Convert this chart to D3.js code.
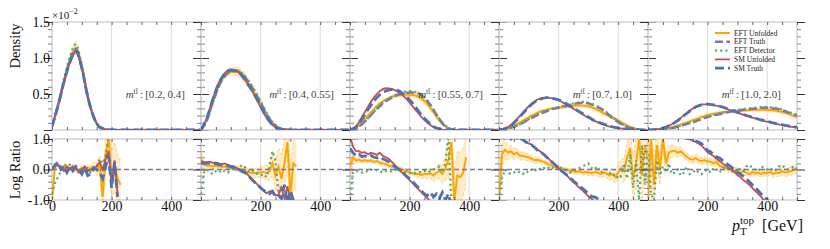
<!DOCTYPE html>
<html>
<head>
  <meta charset="UTF-8">
  <style>
    body { margin: 0; background: #fff; }
    svg { display: block; font-family: "Liberation Serif", "DejaVu Serif", serif; }
  </style>
</head>
<body>
<svg></svg>
<script src="https://d3js.org/d3.v7.min.js"></script>
<script>

let width = 830, height = 249;

// ---- data (density in units of 1e-2, one row per m_tt bin) ----
const massBins = ["[0.2,\u20090.4]", "[0.4,\u20090.55]", "[0.55,\u20090.7]", "[0.7,\u20091.0]", "[1.0,\u20092.0]"];
const seriesNames = ["EFT Unfolded", "EFT Truth", "EFT Detector", "SM Unfolded", "SM Truth"];

const ptDens = [0,20,40,60,80,100,120,140,160,180,200,220,240,260,280,300,320,340,360,380,400,420,440,460,480,500];

const densEftUnf = [
  [0.05,0.34,0.68,0.97,1.14,0.88,0.46,0.18,0.04,0.01,0,0,0,0,0,0,0,0,0,0,0,0,0,0,0,0],
  [0,0.15,0.4,0.62,0.76,0.81,0.81,0.75,0.64,0.51,0.36,0.21,0.09,0.03,0.01,0,0,0,0,0,0,0,0,0,0,0],
  [0,0.03,0.11,0.2,0.29,0.37,0.42,0.46,0.48,0.49,0.49,0.48,0.44,0.36,0.25,0.13,0.05,0.01,0,0,0,0,0,0,0,0],
  [0,0.01,0.04,0.08,0.13,0.18,0.22,0.26,0.28,0.3,0.31,0.32,0.33,0.34,0.34,0.33,0.3,0.26,0.21,0.17,0.13,0.08,0.04,0.015,0,0],
  [0,0.003,0.01,0.02,0.04,0.065,0.09,0.12,0.15,0.18,0.21,0.225,0.24,0.25,0.255,0.26,0.27,0.275,0.28,0.28,0.28,0.275,0.26,0.24,0.21,0.18]
];
const densEftTruth = [
  [0.05,0.34,0.67,0.96,1.13,0.87,0.46,0.18,0.04,0.01,0,0,0,0,0,0,0,0,0,0,0,0,0,0,0,0],
  [0,0.14,0.39,0.61,0.75,0.81,0.82,0.77,0.66,0.53,0.38,0.22,0.1,0.03,0.01,0,0,0,0,0,0,0,0,0,0,0],
  [0,0.02,0.08,0.16,0.25,0.33,0.4,0.45,0.49,0.51,0.52,0.52,0.48,0.4,0.28,0.15,0.05,0.01,0,0,0,0,0,0,0,0],
  [0,0.01,0.03,0.06,0.1,0.15,0.19,0.23,0.26,0.29,0.31,0.33,0.35,0.37,0.38,0.37,0.34,0.3,0.24,0.17,0.11,0.06,0.03,0.01,0,0],
  [0,0.002,0.006,0.013,0.025,0.045,0.07,0.095,0.12,0.15,0.18,0.2,0.22,0.24,0.26,0.27,0.28,0.29,0.3,0.31,0.31,0.3,0.29,0.26,0.23,0.2]
];
const densEftDet = [
  [0.06,0.36,0.71,1.02,1.19,0.9,0.47,0.18,0.04,0.01,0,0,0,0,0,0,0,0,0,0,0,0,0,0,0,0],
  [0,0.13,0.38,0.6,0.75,0.81,0.83,0.78,0.68,0.55,0.4,0.24,0.11,0.04,0.01,0,0,0,0,0,0,0,0,0,0,0],
  [0,0.02,0.08,0.16,0.25,0.34,0.41,0.46,0.5,0.53,0.54,0.53,0.49,0.41,0.29,0.16,0.06,0.01,0,0,0,0,0,0,0,0],
  [0,0.01,0.03,0.06,0.1,0.15,0.2,0.24,0.27,0.3,0.32,0.34,0.36,0.38,0.39,0.38,0.35,0.31,0.25,0.18,0.12,0.07,0.03,0.01,0,0],
  [0,0.002,0.007,0.014,0.027,0.047,0.072,0.1,0.125,0.155,0.185,0.21,0.23,0.25,0.27,0.28,0.29,0.3,0.31,0.32,0.32,0.31,0.3,0.27,0.24,0.21]
];
const densSmUnf = [
  [0.05,0.33,0.66,0.94,1.08,0.86,0.46,0.18,0.04,0.01,0,0,0,0,0,0,0,0,0,0,0,0,0,0,0,0],
  [0,0.17,0.44,0.66,0.79,0.84,0.82,0.74,0.62,0.48,0.32,0.17,0.07,0.02,0.005,0,0,0,0,0,0,0,0,0,0,0],
  [0,0.05,0.18,0.32,0.45,0.54,0.58,0.57,0.53,0.47,0.38,0.28,0.18,0.1,0.04,0.01,0,0,0,0,0,0,0,0,0,0],
  [0,0.02,0.07,0.15,0.24,0.33,0.4,0.44,0.45,0.44,0.41,0.37,0.32,0.27,0.22,0.17,0.13,0.09,0.06,0.04,0.025,0.015,0.008,0.003,0,0],
  [0,0.005,0.015,0.04,0.08,0.14,0.2,0.27,0.32,0.355,0.355,0.345,0.33,0.3,0.27,0.24,0.21,0.185,0.16,0.135,0.115,0.095,0.075,0.06,0.045,0.035]
];
const densSmTruth = [
  [0.05,0.33,0.66,0.94,1.1,0.86,0.46,0.18,0.04,0.01,0,0,0,0,0,0,0,0,0,0,0,0,0,0,0,0],
  [0,0.17,0.43,0.65,0.78,0.83,0.82,0.74,0.62,0.49,0.33,0.18,0.07,0.02,0.005,0,0,0,0,0,0,0,0,0,0,0],
  [0,0.04,0.15,0.28,0.4,0.49,0.54,0.56,0.55,0.5,0.42,0.32,0.21,0.12,0.05,0.015,0,0,0,0,0,0,0,0,0,0],
  [0,0.02,0.06,0.14,0.23,0.32,0.39,0.43,0.45,0.44,0.42,0.38,0.33,0.28,0.23,0.18,0.13,0.1,0.07,0.045,0.03,0.017,0.009,0.004,0.001,0],
  [0,0.005,0.015,0.04,0.08,0.13,0.2,0.26,0.32,0.35,0.36,0.35,0.33,0.305,0.275,0.245,0.215,0.19,0.165,0.14,0.12,0.1,0.08,0.065,0.05,0.04]
];

// ---- log ratio to EFT Truth, pT step 10 ----
const ptRatio = [0,10,20,30,40,50,60,70,80,90,100,110,120,130,140,150,160,170,180,190,200,210,220,230,240,250,260,270,280,290,300,310,320,330,340,350,360,370,380,390,400,410,420,430,440,450,460,470,480,490,500];

const ratioEftUnf = [
  [-1.0,0.1,0.15,0.05,0.1,0.0,0.05,0.1,0.0,-0.05,0.05,0.02,-0.05,0.05,0.1,0.0,0.15,-0.9,0.5,1.0,-0.2,0.1,-0.3,-0.5],
  [0.35,0.15,0.12,0.13,0.1,0.12,0.1,0.08,0.1,0.05,0.06,0.05,0.03,0.0,0.0,-0.05,-0.1,-0.1,-0.12,-0.1,-0.1,-0.08,-0.12,-0.05,0.2,-0.2,0.1,-0.3,0.2,0.9,-0.8,0.2,0.1],
  [0.1,0.4,0.3,0.32,0.28,0.3,0.27,0.3,0.25,0.28,0.22,0.2,0.18,0.12,0.1,0.08,0.05,0.02,-0.02,-0.05,-0.1,-0.12,-0.15,-0.15,-0.18,-0.15,-0.15,-0.12,-0.2,-0.1,-0.05,-0.15,0.05,0.3,0.9,-1.0,-0.2,-0.25,-0.1,0.4],
  [-1.0,0.5,0.65,0.55,0.6,0.5,0.55,0.45,0.45,0.42,0.4,0.35,0.3,0.32,0.28,0.25,0.2,0.15,0.12,0.08,0.05,0.02,0.0,-0.02,-0.05,-0.05,-0.08,-0.05,-0.1,-0.08,-0.1,-0.12,-0.08,-0.1,-0.15,-0.1,-0.12,-0.2,-0.15,-0.25,-0.1,0.05,-0.05,0.4,0.7,-0.3,0.2,1.0,-0.2,0.8,0.3],
  [-1.0,1.0,-0.5,0.8,0.0,1.0,0.2,0.55,0.6,0.62,0.55,0.6,0.5,0.42,0.35,0.32,0.38,0.3,0.28,0.3,0.27,0.25,0.2,0.25,0.12,0.08,0.05,0.0,0.02,-0.05,-0.05,-0.12,-0.05,-0.1,-0.15,-0.08,-0.12,-0.1,-0.15,-0.1,-0.12,-0.08,-0.15,-0.1,-0.12,-0.05,-0.1,-0.08,-0.05,-0.02,0.05]
];
const ratioErr = [
  [0.3,0.12,0.1,0.08,0.08,0.08,0.08,0.08,0.08,0.08,0.1,0.1,0.1,0.12,0.15,0.2,0.3,0.5,0.6,0.7,0.8,0.8,0.8,0.8],
  [0.3,0.12,0.1,0.08,0.08,0.07,0.07,0.07,0.07,0.07,0.07,0.08,0.08,0.1,0.1,0.12,0.12,0.15,0.15,0.15,0.18,0.2,0.25,0.3,0.4,0.5,0.6,0.8,0.8,0.8,0.8,0.8,0.8],
  [0.4,0.15,0.1,0.08,0.07,0.07,0.06,0.06,0.06,0.06,0.06,0.06,0.06,0.06,0.06,0.06,0.06,0.07,0.07,0.07,0.08,0.08,0.1,0.1,0.12,0.12,0.15,0.15,0.2,0.2,0.25,0.3,0.4,0.6,0.8,0.8,0.8,0.8,0.8,0.8],
  [0.6,0.4,0.3,0.25,0.2,0.18,0.15,0.14,0.13,0.12,0.11,0.1,0.1,0.09,0.09,0.08,0.08,0.08,0.08,0.08,0.08,0.08,0.08,0.08,0.08,0.08,0.09,0.09,0.09,0.1,0.1,0.1,0.11,0.12,0.12,0.13,0.14,0.15,0.17,0.2,0.25,0.3,0.4,0.5,0.6,0.7,0.8,0.8,0.8,0.8,0.8],
  [0.8,0.8,0.8,0.6,0.5,0.4,0.3,0.25,0.2,0.18,0.16,0.15,0.14,0.13,0.12,0.12,0.12,0.12,0.11,0.11,0.1,0.1,0.1,0.1,0.1,0.1,0.1,0.1,0.1,0.1,0.1,0.1,0.1,0.1,0.1,0.1,0.1,0.1,0.1,0.11,0.11,0.11,0.12,0.12,0.12,0.13,0.13,0.14,0.14,0.15,0.15]
];
const ratioEftDet = [
  [-0.8,-0.45,-0.25,-0.05,0.1,0.2,0.15,0.0,0.1,0.05,-0.05,0.1,0.05,-0.1,0.0,0.1,0.35,0.2,0.45,1.05],
  [-0.8,-0.1,0.0,-0.1,-0.15,-0.05,-0.1,0.0,-0.05,-0.1,0.0,0.05,0.0,0.1,0.15,0.05,-0.05,0.0,-0.1,-0.15,-0.2,-0.15,-0.25,0.1,0.6,0.3,-0.8,-0.5],
  [-1.0,-0.1,-0.05,-0.05,-0.1,-0.05,-0.05,0.0,-0.05,-0.02,-0.05,-0.1,-0.05,-0.08,-0.05,0.0,-0.05,-0.05,-0.1,-0.08,-0.1,-0.15,-0.12,-0.08,-0.1,-0.05,-0.1,-0.05,0.0,0.05,0.1,-0.1,0.2,1.1,-1.1],
  [-1.0,-0.3,0.0,-0.1,-0.15,-0.1,-0.05,-0.1,-0.15,-0.05,-0.1,0.0,-0.05,0.05,0.0,0.05,0.0,0.1,0.05,0.0,0.1,0.05,0.0,-0.05,-0.1,-0.05,0.0,0.05,0.1,0.15,0.2,0.05,0.0,0.1,-0.1,-0.05,0.0,-0.1,-0.2,-0.15,-0.3,-0.2,0.2,-0.3,0.5,-0.6,0.3,-1.0,0.8,-0.5,0.6],
  [0.5,-0.8,-1.0,0.3,-0.2,0.1,-0.1,0.2,-0.15,-0.1,0.0,-0.2,-0.1,0.1,-0.15,-0.1,0.0,-0.1,-0.15,-0.05,0.0,-0.1,0.05,0.0,-0.1,0.05,0.1,0.0,-0.05,-0.1,0.05,0.0,-0.05,0.1,0.15,0.05,0.0,-0.05,0.1,0.05,0.0,0.05,-0.05,0.0,0.1,0.15,0.05,0.0,0.05,0.1,0.05]
];
const ratioSmUnf = [
  [0.0,0.1,0.15,0.05,-0.05,0.1,0.0,0.1,0.05,-0.1,0.0,0.1,-0.05,0.0,0.05,0.1,0.25,0.0,0.35,0.6,-0.5,0.3,-0.8],
  [0.27,0.25,0.24,0.26,0.22,0.23,0.2,0.18,0.2,0.15,0.12,0.1,0.05,0.0,-0.05,-0.1,-0.2,-0.3,-0.4,-0.5,-0.58,-0.7,-0.78,-0.72,-0.7,-0.85,-0.82,-0.6,-0.95,-0.55,-1.1,-0.9],
  [1.1,0.75,0.6,0.6,0.55,0.57,0.5,0.55,0.52,0.48,0.55,0.45,0.4,0.35,0.25,0.15,0.05,-0.05,-0.15,-0.25,-0.35,-0.45,-0.55,-0.65,-0.75,-0.85,-0.95,-1.05,-1.2],
  [1.2,1.1,1.05,1.1,1.05,1.1,1.0,1.05,1.0,0.92,0.85,0.82,0.72,0.65,0.58,0.5,0.42,0.32,0.25,0.15,0.05,-0.05,-0.13,-0.22,-0.32,-0.42,-0.5,-0.6,-0.68,-0.78,-0.88,-0.95,-1.05],
  [1.3,1.3,1.3,1.3,1.3,1.3,1.3,1.3,1.3,1.3,1.3,1.3,1.3,1.05,1.0,0.95,0.9,0.85,0.78,0.68,0.56,0.5,0.44,0.35,0.28,0.2,0.13,0.05,0.0,-0.08,-0.18,-0.25,-0.35,-0.42,-0.5,-0.6,-0.7,-0.8,-0.9,-1.02,-1.1]
];
const ratioSmTruth = [
  [0.0,0.15,0.25,0.0,0.1,-0.1,0.1,-0.05,0.1,0.0,-0.15,0.05,-0.2,-0.15,0.05,0.0,-0.1,-0.3,0.1,0.45,-0.6,0.25,-0.9],
  [0.22,0.2,0.2,0.21,0.18,0.2,0.16,0.15,0.16,0.12,0.1,0.07,0.03,-0.02,-0.07,-0.12,-0.22,-0.32,-0.42,-0.52,-0.6,-0.68,-0.75,-0.8,-0.72,-0.9,-0.85,-0.95,-0.5,-1.1,-0.7,-1.0],
  [0.7,0.55,0.45,0.5,0.42,0.45,0.4,0.46,0.4,0.38,0.42,0.35,0.3,0.25,0.18,0.1,0.02,-0.05,-0.13,-0.22,-0.3,-0.4,-0.5,-0.6,-0.7,-0.8,-0.85,-0.75,-0.9,-0.8,-0.95,-0.75,-1.0,-0.8,-1.2],
  [1.2,1.1,1.05,1.1,1.0,1.08,1.0,1.02,0.98,0.9,0.85,0.8,0.72,0.62,0.56,0.5,0.4,0.3,0.22,0.14,0.05,-0.05,-0.12,-0.2,-0.28,-0.38,-0.46,-0.55,-0.62,-0.7,-0.78,-0.88,-0.9,-0.95,-1.05],
  [1.3,1.3,1.3,1.3,1.3,1.3,1.3,1.3,1.3,1.3,1.3,1.1,1.05,1.02,1.0,0.97,0.93,0.9,0.85,0.72,0.62,0.58,0.5,0.42,0.38,0.3,0.22,0.15,0.08,0.0,-0.08,-0.15,-0.22,-0.3,-0.4,-0.5,-0.6,-0.7,-0.8,-0.9,-1.0,-1.1]
];

// ---- styles ----
const styles = {
  "EFT Unfolded": {color: "#ffa500", w: 2, dash: null},
  "EFT Truth":    {color: "#8172b2", w: 2.5, dash: "8,3.5"},
  "EFT Detector": {color: "#55a868", w: 2.2, dash: "2,3.2"},
  "SM Unfolded":  {color: "#c44e52", w: 1.8, dash: null},
  "SM Truth":     {color: "#4c72b0", w: 2.8, dash: "9,4"}
};
const densBySeries = [densEftUnf, densEftTruth, densEftDet, densSmUnf, densSmTruth];

let svg = d3.select("svg").attr("width", width).attr("height", height);
let defs = svg.append("defs");

const left0 = 52, panelW = 149;
const topY0 = 22, topY1 = 130, botY0 = 139, botY1 = 200;
const yT = d3.scaleLinear().domain([0, 1.5]).range([topY1, topY0]);
const yB = d3.scaleLinear().domain([-1, 1]).range([botY1, botY0]);
const xTicks50 = [0,50,100,150,200,250,300,350,400,450,500];

function styled(sel, s) {
  return sel.attr("fill", "none").attr("stroke", s.color).attr("stroke-width", s.w)
    .attr("stroke-dasharray", s.dash);
}

function inwardTicks(g, x, x0, x1, y, majors, minors, isTop) {
  // y ticks on both sides
  [[d3.axisRight, x0], [d3.axisLeft, x1]].forEach(([ax, px]) => {
    g.append("g").attr("transform", `translate(${px},0)`)
      .call(ax(y).tickValues(minors).tickSize(-4).tickFormat(""))
      .call(a => a.select(".domain").remove())
      .selectAll("line").attr("stroke", "#666").attr("stroke-width", 0.8);
    g.append("g").attr("transform", `translate(${px},0)`)
      .call(ax(y).tickValues(majors).tickSize(-8).tickFormat(""))
      .call(a => a.select(".domain").remove())
      .selectAll("line").attr("stroke", "#333").attr("stroke-width", 1);
  });
  const r = y.range();
  g.append("g").attr("transform", `translate(0,${r[1]})`)
    .call(d3.axisTop(x).tickValues(xTicks50).tickSize(-3).tickFormat(""))
    .call(a => a.select(".domain").remove())
    .selectAll("line").attr("stroke", "#444").attr("stroke-width", 0.8);
  g.append("g").attr("transform", `translate(0,${r[0]})`)
    .call(d3.axisBottom(x).tickValues(xTicks50).tickSize(-3).tickFormat(""))
    .call(a => a.select(".domain").remove())
    .selectAll("line").attr("stroke", "#444").attr("stroke-width", 0.8);
}

massBins.forEach((label, p) => {
  const x0 = left0 + p * panelW, x1 = x0 + panelW;
  const x = d3.scaleLinear().domain([0, 500]).range([x0, x1]);
  const g = svg.append("g");

  // clip paths
  defs.append("clipPath").attr("id", "ct" + p).append("rect")
    .attr("x", x0).attr("y", topY0).attr("width", panelW).attr("height", topY1 - topY0);
  defs.append("clipPath").attr("id", "cb" + p).append("rect")
    .attr("x", x0).attr("y", botY0).attr("width", panelW).attr("height", botY1 - botY0);

  // frames + grid
  [[topY0, topY1], [botY0, botY1]].forEach(([a, b]) => {
    g.append("rect").attr("x", x0).attr("y", a).attr("width", panelW).attr("height", b - a)
      .attr("fill", "none").attr("stroke", "#d2d2d2").attr("stroke-width", 1.5);
    g.selectAll(null).data([200, 400]).enter().append("line")
      .attr("x1", d => x(d)).attr("x2", d => x(d)).attr("y1", a).attr("y2", b)
      .attr("stroke", "#dcdcdc").attr("stroke-width", 1);
  });

  // ---- density ----
  const gt = g.append("g").attr("clip-path", `url(#ct${p})`);
  const dline = d3.line().x((d, i) => x(ptDens[i])).y(d => yT(d)).curve(d3.curveMonotoneX);
  const orange = densEftUnf[p];
  const bandD = orange.map((v, i) => {
    const e = ratioErr[p][2 * i] || 0;
    return [v * Math.exp(-e), v * Math.exp(e)];
  });
  gt.append("path").datum(bandD)
    .attr("d", d3.area().x((d, i) => x(ptDens[i])).y0(d => yT(d[0])).y1(d => yT(d[1])).curve(d3.curveMonotoneX))
    .attr("fill", "#ffa500").attr("opacity", 0.28);
  seriesNames.forEach((name, s) => {
    styled(gt.append("path").datum(densBySeries[s][p]).attr("d", dline), styles[name]);
  });

  // ---- log ratio ----
  const gb = g.append("g").attr("clip-path", `url(#cb${p})`);
  const rline = d3.line().defined(d => d != null).x((d, i) => x(ptRatio[i])).y(d => yB(d));
  const errs = ratioErr[p];
  const bandR = ratioEftUnf[p].map((v, i) => [v - errs[i], v + errs[i]]);
  gb.append("path").datum(bandR)
    .attr("d", d3.area().x((d, i) => x(ptRatio[i])).y0(d => yB(d[0])).y1(d => yB(d[1])))
    .attr("fill", "#ffa500").attr("opacity", 0.22);
  [0, 1].forEach(k => {
    gb.append("path").datum(bandR.map(d => d[k]))
      .attr("d", rline).attr("fill", "none").attr("stroke", "#ffb733")
      .attr("stroke-width", 0.8).attr("stroke-dasharray", "3,2").attr("opacity", 0.7);
  });
  styled(gb.append("path").datum(ratioEftUnf[p]).attr("d", rline), styles["EFT Unfolded"]);
  gb.append("line").attr("x1", x0).attr("x2", x1).attr("y1", yB(0)).attr("y2", yB(0))
    .attr("stroke", "#8172b2").attr("stroke-width", 1.3).attr("stroke-dasharray", "5,3");
  styled(gb.append("path").datum(ratioEftDet[p]).attr("d", rline), styles["EFT Detector"]);
  styled(gb.append("path").datum(ratioSmUnf[p]).attr("d", rline), styles["SM Unfolded"]);
  styled(gb.append("path").datum(ratioSmTruth[p]).attr("d", rline), styles["SM Truth"]);

  // ---- ticks ----
  inwardTicks(g, x, x0, x1, yT, [0, 0.5, 1.0, 1.5],
    [0.1,0.2,0.3,0.4,0.6,0.7,0.8,0.9,1.1,1.2,1.3,1.4]);
  inwardTicks(g, x, x0, x1, yB, [-1, 0, 1], [-0.8,-0.6,-0.4,-0.2,0.2,0.4,0.6,0.8]);

  // x tick labels
  g.append("g").attr("transform", `translate(0,${botY1})`)
    .call(d3.axisBottom(x).tickValues(p === 0 ? [0, 200, 400] : [200, 400]).tickSize(0).tickPadding(1))
    .call(a => a.select(".domain").remove())
    .attr("font-family", null).attr("font-size", 14)
    .selectAll("text").attr("fill", "#111");

  // bin annotation
  const t = g.append("text").attr("x", x0 + 133).attr("y", 98)
    .attr("text-anchor", "end").attr("font-size", 11).attr("fill", "#444");
  t.append("tspan").attr("font-style", "italic").text("m");
  t.append("tspan").attr("font-size", 7.5).attr("dy", -4).text("tt\u0304");
  t.append("tspan").attr("dy", 4).text("\u2009:\u2009" + label);
});

// y tick labels (first panel only)
svg.append("g").attr("transform", `translate(${left0},0)`)
  .call(d3.axisLeft(yT).tickValues([0.5, 1.0, 1.5]).tickSize(0).tickPadding(2).tickFormat(d => d.toFixed(1)))
  .call(a => a.select(".domain").remove())
  .attr("font-family", null).attr("font-size", 14)
  .selectAll("text").attr("fill", "#111");
svg.append("g").attr("transform", `translate(${left0},0)`)
  .call(d3.axisLeft(yB).tickValues([-1, 0, 1]).tickSize(0).tickPadding(2).tickFormat(d => d.toFixed(1)))
  .call(a => a.select(".domain").remove())
  .attr("font-family", null).attr("font-size", 14)
  .selectAll("text").attr("fill", "#111");

// offset text
let off = svg.append("text").attr("x", left0).attr("y", 18.5).attr("font-size", 11).attr("fill", "#222");
off.append("tspan").text("\u00d710");
off.append("tspan").attr("font-size", 8).attr("dy", -4.5).text("\u22122");

// axis titles
svg.append("text").attr("transform", "translate(20,46) rotate(-90)")
  .attr("text-anchor", "middle").attr("font-size", 14.5).attr("fill", "#111").text("Density");
svg.append("text").attr("transform", "translate(20,170) rotate(-90)")
  .attr("text-anchor", "middle").attr("font-size", 14.5).attr("fill", "#111").text("Log Ratio");

let xt = svg.append("text").attr("x", 732).attr("y", 231).attr("font-size", 16).attr("fill", "#111");
xt.append("tspan").attr("font-style", "italic").text("p");
xt.append("tspan").attr("font-size", 11).attr("dy", 4).text("T");
xt.append("tspan").attr("font-size", 11).attr("dx", -6.7).attr("dy", -11).text("top");
xt.append("tspan").attr("dy", 7).text("\u2002[GeV]");

// legend
let lg = svg.append("g").attr("transform", "translate(715,33)");
seriesNames.forEach((name, i) => {
  const row = lg.append("g").attr("transform", `translate(0,${i * 8.8})`);
  styled(row.append("line").attr("x1", 0).attr("x2", 15).attr("y1", 0).attr("y2", 0), styles[name]);
  row.append("text").attr("x", 19).attr("y", 2.6).attr("font-size", 7.5).attr("fill", "#222").text(name);
});

</script>
</body>
</html>
